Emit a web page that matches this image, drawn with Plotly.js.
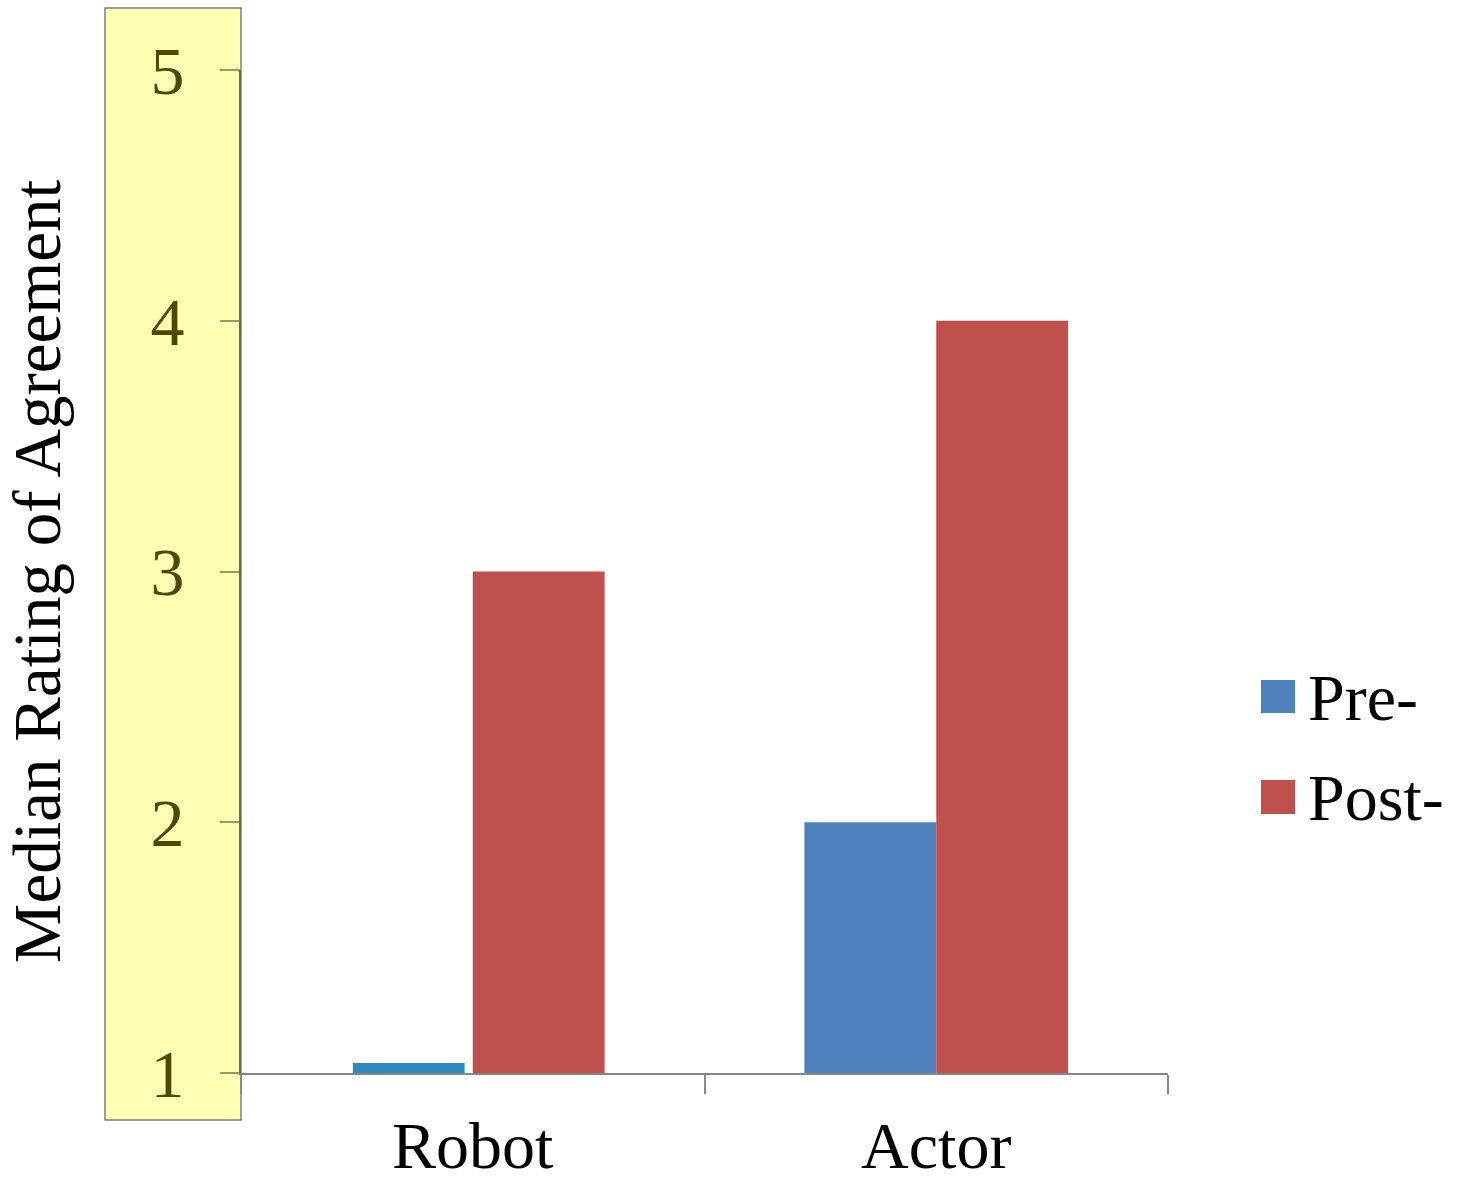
<!DOCTYPE html>
<html>
<head>
<meta charset="utf-8">
<script src="https://cdn.plot.ly/plotly-3.0.1.min.js"></script>
<style>html,body{margin:0;padding:0;background:#fff}#chart{width:1457px;height:1178px}</style>
</head>
<body>
<div id="chart"></div>
<script>
const categories = ["Robot", "Actor"];
const seriesNames = ["Pre-", "Post-"];
const preValues = [1.04, 2];
const postValues = [3, 4];
const yTickValues = [1, 2, 3, 4, 5];
const yTickLabels = ["1", "2", "3", "4", "5"];

const FONT = "Liberation Serif, Times New Roman, serif";
const PRE_COLOR = "#4F81BD";
const PRE_ROBOT_COLOR = "#2E89C1";
const POST_COLOR = "#C0504D";

const traces = [
  {
    type: "bar", name: seriesNames[0], x: categories, y: preValues,
    width: [0.241, 0.2845], offset: [-0.2586, -0.2845],
    marker: {color: [PRE_ROBOT_COLOR, PRE_COLOR], line: {width: 0}},
    showlegend: false, hoverinfo: "x+y+name"
  },
  {
    type: "bar", name: seriesNames[1], x: categories, y: postValues,
    width: 0.2845, offset: 0,
    marker: {color: POST_COLOR, line: {width: 0}},
    showlegend: false, hoverinfo: "x+y+name"
  }
];

const layout = {
  width: 1457, height: 1178,
  margin: {l: 241, r: 289, t: 70, b: 105, pad: 0},
  paper_bgcolor: "#ffffff", plot_bgcolor: "#ffffff",
  font: {family: FONT, color: "#000"},
  barmode: "overlay",
  xaxis: {
    type: "category", range: [-0.5, 1.5],
    showgrid: false, zeroline: false,
    showline: true, linecolor: "#868686", linewidth: 2,
    ticks: "outside", tickson: "boundaries", ticklen: 19, tickwidth: 2, tickcolor: "#8a8a8a",
    tickfont: {family: FONT, size: 66, color: "#000"},
    ticklabelstandoff: 14
  },
  yaxis: {
    range: [1, 5], tickvals: yTickValues, ticktext: yTickLabels,
    showgrid: false, zeroline: false,
    showline: true, linecolor: "#6b6b50", linewidth: 2,
    ticks: "outside", ticklen: 19, tickwidth: 2, tickcolor: "#9a9a60",
    tickfont: {family: FONT, size: 68, color: "#4d4a00"},
    ticklabelstandoff: 22,
    title: {text: "Median Rating of Agreement", font: {family: FONT, size: 67, color: "#000"}, standoff: 70}
  },
  shapes: [
    {type: "rect", xref: "paper", yref: "paper", layer: "below",
     x0: -0.1467, x1: 0, y0: -0.0469, y1: 1.0618,
     fillcolor: "#FFFFB4", line: {color: "#7f7f7f", width: 1.5}},
    {type: "rect", xref: "paper", yref: "paper",
     x0: (1261-241)/927, x1: (1295-241)/927, y0: (1073-713)/1003, y1: (1073-680)/1003,
     fillcolor: PRE_COLOR, line: {width: 0}},
    {type: "rect", xref: "paper", yref: "paper",
     x0: (1261-241)/927, x1: (1295-241)/927, y0: (1073-814)/1003, y1: (1073-780)/1003,
     fillcolor: POST_COLOR, line: {width: 0}}
  ],
  annotations: [
    {xref: "paper", yref: "paper", x: (1306-241)/927, y: (1073-697)/1003, xanchor: "left", yanchor: "middle",
     text: seriesNames[0], showarrow: false, font: {family: FONT, size: 66, color: "#000"}},
    {xref: "paper", yref: "paper", x: (1306-241)/927, y: (1073-797)/1003, xanchor: "left", yanchor: "middle",
     text: seriesNames[1], showarrow: false, font: {family: FONT, size: 66, color: "#000"}}
  ]
};

Plotly.newPlot("chart", traces, layout, {displayModeBar: false, responsive: false});
</script>
</body>
</html>
